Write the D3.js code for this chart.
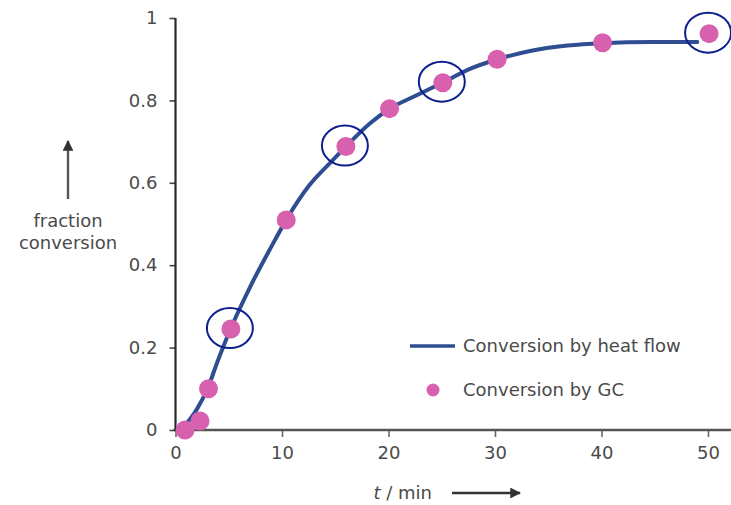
<!DOCTYPE html>
<html>
<head>
<meta charset="utf-8">
<script src="https://cdn.jsdelivr.net/npm/d3@7/dist/d3.min.js"></script>
<style>
  html, body { margin: 0; padding: 0; background: #fff; }
  svg text { font-family: "DejaVu Sans", "Liberation Sans", sans-serif; fill: #4a4a4a; }
</style>
</head>
<body>
<svg id="chart" width="731" height="505"></svg>
<script>
// Heat-flow conversion curve (time in min, fraction converted)
const heatTime = [0.3, 1, 2, 3, 4, 5, 7, 9, 10.4, 12.6, 14.5, 16, 18.3, 20, 22.7, 25, 27.7, 30, 33.3, 36.8, 40, 44.8, 49];
const heatConv = [0, 0.015, 0.05, 0.1, 0.17, 0.235, 0.347, 0.445, 0.51, 0.595, 0.648, 0.688, 0.745, 0.778, 0.813, 0.842, 0.877, 0.898, 0.92, 0.933, 0.939, 0.942, 0.942];

// GC samples
const gcTime = [0.9, 2.3, 3.1, 5.2, 10.4, 16.0, 20.1, 25.1, 30.2, 40.1, 50.1];
const gcConv = [0.0, 0.022, 0.1, 0.245, 0.51, 0.688, 0.78, 0.843, 0.90, 0.94, 0.962];

// GC samples that are ringed
const ringedIdx = [3, 5, 7, 10];

const xTicks = [0, 10, 20, 30, 40, 50];
const yTicks = [0, 0.2, 0.4, 0.6, 0.8, 1];
const yTickLabels = ["0", "0.2", "0.4", "0.6", "0.8", "1"];

const legendLabels = ["Conversion by heat flow", "Conversion by GC"];

const svg = d3.select("#chart");
const W = 731;

const x = d3.scaleLinear().domain([0, 50]).range([175.5, 708]);
const y = d3.scaleLinear().domain([0, 1]).range([430, 18]);

// x axis
const xAxis = svg.append("g").attr("transform", `translate(0,${y(0)})`)
  .call(d3.axisBottom(x).tickValues(xTicks).tickSize(7).tickSizeOuter(0).tickPadding(9));
xAxis.select(".domain").remove();
xAxis.selectAll(".tick line").attr("stroke", "#666").attr("stroke-width", 1.6);
xAxis.selectAll(".tick text").style("font-size", "18px").attr("fill", "#4a4a4a");
svg.append("line")
  .attr("x1", x(0) - 2).attr("x2", W).attr("y1", y(0)).attr("y2", y(0))
  .attr("stroke", "#555").attr("stroke-width", 2.6);

// y axis
const yAxis = svg.append("g").attr("transform", `translate(${x(0)},0)`)
  .call(d3.axisLeft(y).tickValues(yTicks).tickFormat((d, i) => yTickLabels[i])
    .tickSize(6).tickSizeOuter(0).tickPadding(12));
yAxis.select(".domain").remove();
yAxis.selectAll(".tick line").attr("stroke", "#444").attr("stroke-width", 1.6);
yAxis.selectAll(".tick text").style("font-size", "18px").attr("fill", "#4a4a4a");
svg.append("line")
  .attr("x1", x(0)).attr("x2", x(0)).attr("y1", y(1)).attr("y2", y(0) + 1)
  .attr("stroke", "#2a2a2a").attr("stroke-width", 2.2);

// arrow marker
svg.append("defs").append("marker")
  .attr("id", "arrowHead").attr("viewBox", "0 0 10 10")
  .attr("refX", 9).attr("refY", 5)
  .attr("markerWidth", 4.5).attr("markerHeight", 4.5)
  .attr("markerUnits", "strokeWidth")
  .attr("orient", "auto")
  .append("path").attr("d", "M0,0 L10,5 L0,10 z").attr("fill", "#333");

// y axis title with upward arrow
svg.append("line")
  .attr("x1", 68).attr("x2", 68).attr("y1", 199).attr("y2", 141)
  .attr("stroke", "#555").attr("stroke-width", 2.4)
  .attr("marker-end", "url(#arrowHead)");
svg.append("text").attr("x", 68).attr("y", 227).attr("text-anchor", "middle")
  .style("font-size", "18px").text("fraction");
svg.append("text").attr("x", 68).attr("y", 249).attr("text-anchor", "middle")
  .style("font-size", "18px").text("conversion");

// x axis title with rightward arrow
const xt = svg.append("text").attr("x", 432).attr("y", 499).attr("text-anchor", "end")
  .style("font-size", "18px");
xt.append("tspan").style("font-style", "italic").text("t");
xt.append("tspan").text(" / min");
svg.append("line")
  .attr("x1", 452).attr("x2", 520).attr("y1", 493).attr("y2", 493)
  .attr("stroke", "#333").attr("stroke-width", 2.4)
  .attr("marker-end", "url(#arrowHead)");

// heat-flow curve
const line = d3.line()
  .x((d, i) => x(heatTime[i]))
  .y((d, i) => y(heatConv[i]))
  .curve(d3.curveMonotoneX);
svg.append("path")
  .datum(heatConv)
  .attr("d", line)
  .attr("fill", "none")
  .attr("stroke", "#2f4e92")
  .attr("stroke-width", 4)
  .attr("stroke-linecap", "round");

// GC points
svg.append("g").selectAll("circle")
  .data(gcConv)
  .join("circle")
  .attr("cx", (d, i) => x(gcTime[i]))
  .attr("cy", d => y(d))
  .attr("r", 9.5)
  .attr("fill", "#d761ae");

// rings around selected samples
svg.append("g").selectAll("ellipse")
  .data(ringedIdx)
  .join("ellipse")
  .attr("cx", i => x(gcTime[i]) - 1)
  .attr("cy", i => y(gcConv[i]) - 1)
  .attr("rx", 23)
  .attr("ry", 20)
  .attr("fill", "none")
  .attr("stroke", "#0d1f8f")
  .attr("stroke-width", 2);

// legend
const lg = svg.append("g");
lg.append("line").attr("x1", 410).attr("x2", 455).attr("y1", 346).attr("y2", 346)
  .attr("stroke", "#2f4e92").attr("stroke-width", 3.5);
lg.append("circle").attr("cx", 433).attr("cy", 390).attr("r", 6.5).attr("fill", "#d761ae");
lg.selectAll("text")
  .data(legendLabels)
  .join("text")
  .attr("x", 463)
  .attr("y", (d, i) => 346 + i * 44)
  .attr("dy", "0.35em")
  .style("font-size", "18px")
  .text(d => d);
</script>
</body>
</html>
